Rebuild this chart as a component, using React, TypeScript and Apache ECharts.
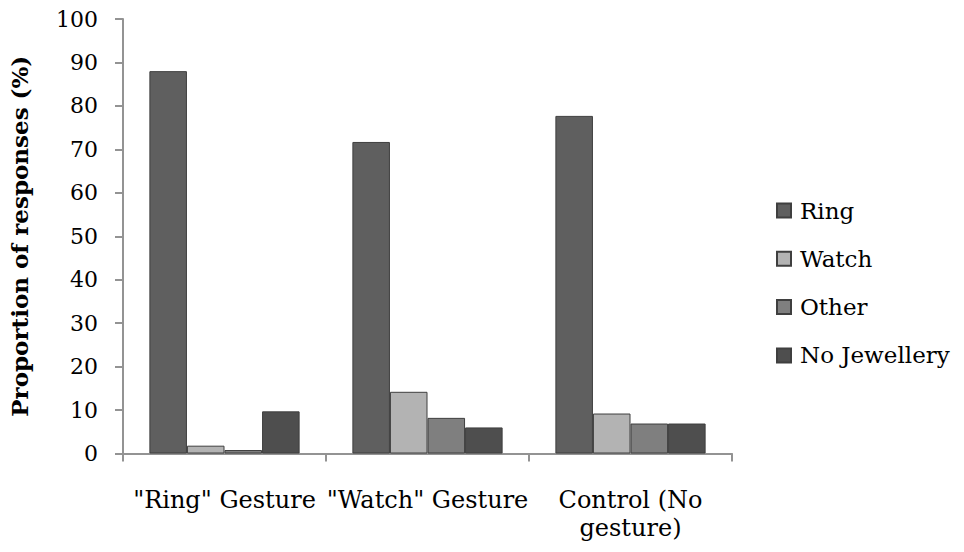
import React, { useEffect, useRef } from "react";
import * as echarts from "echarts";

const categories = ['"Ring" Gesture', '"Watch" Gesture', "Control (No\ngesture)"];
const seriesNames = ["Ring", "Watch", "Other", "No Jewellery"];
const ringValues = [88, 71.7, 77.7];
const watchValues = [1.8, 14.2, 9.2];
const otherValues = [0.8, 8.2, 6.9];
const noJewelleryValues = [9.7, 6.0, 6.9];
const seriesColors = ["#5f5f5f", "#b3b3b3", "#7f7f7f", "#4e4e4e"];
const yTicks = { min: 0, max: 100, interval: 10 };

const FONT = "DejaVu Serif";

export default function App() {
  const ref = useRef<HTMLDivElement>(null);
  useEffect(() => {
    if (!ref.current) return;
    const chart = echarts.init(ref.current, null, { renderer: "svg" });
    const values = [ringValues, watchValues, otherValues, noJewelleryValues];
    chart.setOption({
      animation: false,
      backgroundColor: "#ffffff",
      textStyle: { fontFamily: FONT, color: "#000" },
      grid: { left: 123, right: 232, top: 19, bottom: 98.5, containLabel: false },
      legend: {
        orient: "vertical",
        left: 771,
        top: 192,
        itemWidth: 14,
        itemHeight: 14,
        itemGap: 21.3,
        icon: "rect",
        textStyle: { fontFamily: FONT, fontSize: 23, color: "#000", lineHeight: 27, padding: [0, 0, 0, 4] },
        data: seriesNames,
      },
      xAxis: {
        type: "category",
        data: categories,
        axisLine: { show: true, lineStyle: { color: "#939393", width: 2 } },
        axisTick: { show: true, length: 8, lineStyle: { color: "#939393", width: 2 } },
        axisLabel: {
          interval: 0,
          margin: 32,
          fontFamily: FONT,
          fontSize: 24,
          lineHeight: 28,
          color: "#000",
        },
        splitLine: { show: false },
      },
      yAxis: {
        type: "value",
        min: yTicks.min,
        max: yTicks.max,
        interval: yTicks.interval,
        name: "Proportion of responses (%)",
        nameLocation: "middle",
        nameGap: 92,
        nameTextStyle: { fontFamily: FONT, fontSize: 23, fontWeight: "bold", color: "#000" },
        axisLine: { show: true, lineStyle: { color: "#939393", width: 2 } },
        axisTick: { show: true, length: 8, lineStyle: { color: "#939393", width: 2 } },
        axisLabel: { margin: 25, fontFamily: FONT, fontSize: 22, color: "#000" },
        splitLine: { show: false },
      },
      series: seriesNames.map((name, i) => ({
        name,
        type: "bar",
        data: values[i],
        barGap: "0%",
        barCategoryGap: "26%",
        itemStyle: { color: seriesColors[i], borderColor: "#3f3f3f", borderWidth: 1 },
      })),
    });
    return () => chart.dispose();
  }, []);
  return <div ref={ref} style={{ position: "fixed", left: 0, top: 0, width: 964, height: 552 }} />;
}
